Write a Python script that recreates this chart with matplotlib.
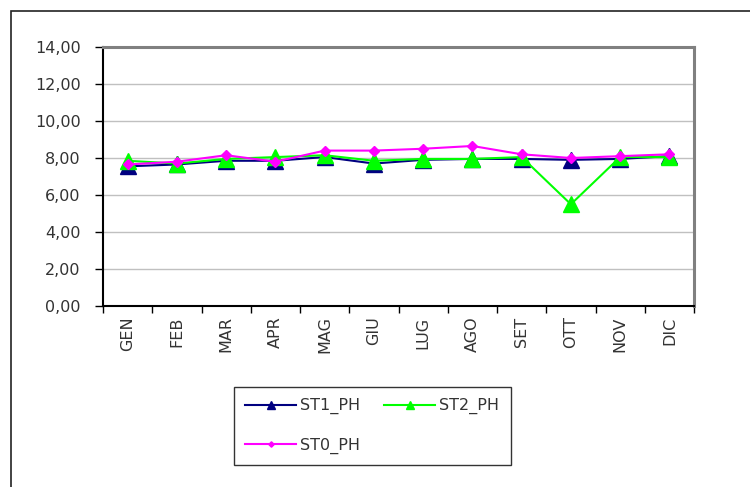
import matplotlib
matplotlib.use('Agg')
import matplotlib.pyplot as plt
from matplotlib.patches import Rectangle
from matplotlib.ticker import FixedLocator

plt.rcParams['font.family'] = ['DejaVu Sans']

# mesi
mesi = ['GEN', 'FEB', 'MAR', 'APR', 'MAG', 'GIU', 'LUG', 'AGO', 'SET', 'OTT', 'NOV', 'DIC']

# valori pH
st1_ph = [7.55, 7.65, 7.85, 7.85, 8.05, 7.70, 7.90, 7.95, 7.95, 7.90, 7.95, 8.10]
st2_ph = [7.85, 7.70, 7.95, 8.05, 8.15, 7.85, 7.95, 7.95, 8.05, 5.50, 8.05, 8.05]
st0_ph = [7.65, 7.80, 8.15, 7.80, 8.40, 8.40, 8.50, 8.65, 8.20, 8.00, 8.10, 8.20]

y_ticks = [0, 2, 4, 6, 8, 10, 12, 14]
y_labels = ['0,00', '2,00', '4,00', '6,00', '8,00', '10,00', '12,00', '14,00']

FS = 11.5
TXT = '#333333'

fig = plt.figure(figsize=(7.5, 4.87), dpi=100)

# cornice esterna (tagliata a destra e in basso)
fig.patches.append(Rectangle((11 / 750, -0.1), 1.0, (487 - 11) / 487 + 0.1,
                             transform=fig.transFigure, fill=False,
                             edgecolor='#222222', linewidth=1.2))

ax = fig.add_axes([103 / 750, 1 - 306 / 487, (694 - 103) / 750, (306 - 47) / 487])

x = list(range(len(mesi)))
ax.plot(x, st1_ph, color='#000080', linewidth=1.5, marker='^', markersize=11, label='ST1_PH', zorder=3)
ax.plot(x, st2_ph, color='#00FF00', linewidth=1.5, marker='^', markersize=11, label='ST2_PH', zorder=4)
ax.plot(x, st0_ph, color='#FF00FF', linewidth=1.5, marker='D', markersize=5.5, label='ST0_PH', zorder=5)

ax.set_xlim(-0.5, len(mesi) - 0.5)
ax.set_ylim(0, 14)

# griglia
for t in y_ticks[1:-1]:
    ax.axhline(t, color='#c0c0c0', linewidth=1, zorder=1)

ax.set_yticks(y_ticks)
ax.set_yticklabels(y_labels, fontsize=FS, color=TXT)
ax.tick_params(axis='y', direction='out', length=6, width=1, pad=10)

ax.set_xticks(x)
ax.set_xticklabels(mesi, rotation=90, fontsize=FS, color=TXT)
ax.xaxis.set_minor_locator(FixedLocator([i - 0.5 for i in range(len(mesi) + 1)]))
ax.tick_params(axis='x', which='major', length=0, pad=7.5)
ax.tick_params(axis='x', which='minor', direction='out', length=5, width=1)

ax.spines['left'].set_color('black')
ax.spines['bottom'].set_color('black')
ax.spines['left'].set_linewidth(1.5)
ax.spines['bottom'].set_linewidth(1.5)
ax.spines['top'].set_color('#808080')
ax.spines['right'].set_color('#808080')
ax.spines['top'].set_linewidth(2.2)
ax.spines['right'].set_linewidth(2.2)

h, l = ax.get_legend_handles_labels()
order = [0, 2, 1]
leg = fig.legend([h[i] for i in order], [l[i] for i in order], ncol=2,
                 loc='upper left', bbox_to_anchor=(234 / 750, 1 - 387 / 487),
                 borderaxespad=0, frameon=True, fancybox=False, edgecolor='black',
                 fontsize=FS, handlelength=3.2, handletextpad=0.25, columnspacing=1.5,
                 labelspacing=1.45, borderpad=0.7, markerscale=0.5)
leg.get_frame().set_linewidth(1.0)
for t in leg.get_texts():
    t.set_color(TXT)

fig.savefig('out.png', dpi=100)
